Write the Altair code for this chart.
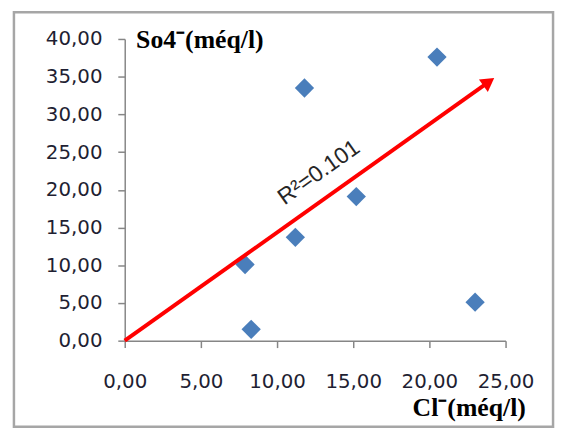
import altair as alt
import pandas as pd

# Data
cl = [7.9, 8.3, 11.2, 11.8, 15.2, 20.5, 23.0]
so4 = [10.1, 1.5, 13.7, 33.5, 19.1, 37.6, 5.1]

x_ticks = [0, 5, 10, 15, 20, 25]
y_ticks = [0, 5, 10, 15, 20, 25, 30, 35, 40]

arrow_x = [0.0, 23.9]
arrow_y = [0.0, 34.3]
head_x = [23.9]
head_y = [34.3]

r2_text = ["R²=0.101"]
r2_x = [12.75]
r2_y = [22.3]

pts = pd.DataFrame({"cl": cl, "so4": so4})
arrow = pd.DataFrame({"cl": arrow_x, "so4": arrow_y})
head = pd.DataFrame({"cl": head_x, "so4": head_y})
lab = pd.DataFrame({"cl": r2_x, "so4": r2_y, "t": r2_text})

W, H = 385, 305

fmt = "replace(format(datum.value, '.2f'), '.', ',')"

xs = alt.Scale(domain=[0, 25], nice=False)
ys = alt.Scale(domain=[0, 40], nice=False)

xaxis = alt.Axis(values=x_ticks, labelExpr=fmt, title="Cl⁻(méq/l)",
                 titleX=405, titleY=76, titleAlign="right", titleBaseline="alphabetic",
                 labelPadding=24, labelOverlap=False, labelBound=False, labelFlush=False)
yaxis = alt.Axis(values=y_ticks, labelExpr=fmt, title="So4⁻(méq/l)",
                 titleX=11, titleY=9, titleAngle=0, titleAlign="left",
                 titleBaseline="alphabetic", labelPadding=16,
                 labelOverlap=False, labelBound=False, labelFlush=False)

X = alt.X("cl:Q", scale=xs, axis=xaxis)
Y = alt.Y("so4:Q", scale=ys, axis=yaxis)

border = alt.Chart(pd.DataFrame({"a": [0]})).mark_rect(
    fill=None, stroke="#a6a6a6", strokeWidth=2.5, clip=False
).encode(x=alt.value(-112), x2=alt.value(433), y=alt.value(-27), y2=alt.value(392))

points = alt.Chart(pts).mark_point(
    shape="diamond", filled=True, size=380, color="#4a7ebb", opacity=1
).encode(x=X, y=Y)

line = alt.Chart(arrow).mark_line(color="#ff0000", strokeWidth=4, strokeCap="butt").encode(
    x=X, y=Y
)

arrowhead = alt.Chart(head).mark_point(
    shape="triangle-up", filled=True, size=240, color="#ff0000", opacity=1, angle=54.6
).encode(x=X, y=Y)

text = alt.Chart(lab).mark_text(
    font="Liberation Sans", fontSize=23, color="#262626", angle=324.6,
    align="center", baseline="middle"
).encode(x=X, y=Y, text="t:N")

chart = alt.layer(border, points, line, arrowhead, text).properties(
    width=W, height=H,
    autosize=alt.AutoSizeParams(type="none"),
    padding={"left": 118, "top": 29, "right": 52, "bottom": 88},
).configure_view(stroke=None).configure_axis(
    grid=False,
    domainColor="#868686", domainWidth=1.5,
    tickColor="#868686", tickSize=7, tickWidth=1.5,
    labelFont="DejaVu Sans", labelFontSize=20, labelColor="#1f1f33",
    titleFont="Liberation Serif", titleFontSize=26, titleFontWeight="bold",
    titleColor="#000000",
)

chart.save("out.html", embed_options={"renderer": "svg", "actions": False})
